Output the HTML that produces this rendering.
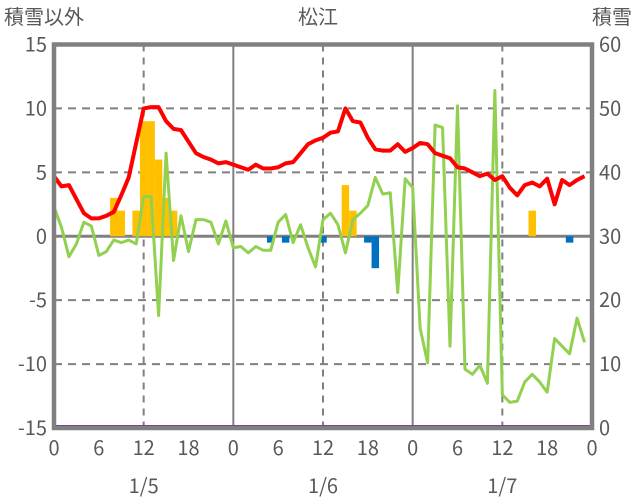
<!DOCTYPE html>
<html><head><meta charset="utf-8">
<style>
body{margin:0;background:#fff;}
svg{display:block;font-family:"Noto Sans CJK JP","Liberation Sans",sans-serif;}
.t{fill:#595959;font-size:20px;}
</style></head>
<body>
<svg id="chart" width="636" height="501" viewBox="0 0 636 501" xmlns="http://www.w3.org/2000/svg">
<text x="4" y="24" class="t">積雪以外</text>
<text x="318" y="24" class="t" text-anchor="middle">松江</text>
<text x="632" y="24" class="t" text-anchor="end">積雪</text>
<g id="grid"></g>
<g id="bars"></g>
<g id="lines"></g>
<g id="axes"></g>
</svg>
<script>
const hourTicks = [0,6,12,18,0,6,12,18,0,6,12,18,0];
const dateLabels = ["1/5","1/6","1/7"];
const leftTicks = [15,10,5,0,-5,-10,-15];
const rightTicks = [60,50,40,30,20,10,0];
const temp = [4.7,3.9,4.0,2.9,1.8,1.4,1.4,1.6,1.9,3.2,4.6,7.3,10.0,10.1,10.1,9.0,8.4,8.3,7.4,6.5,6.2,6.0,5.7,5.8,5.6,5.4,5.2,5.6,5.3,5.3,5.4,5.7,5.8,6.5,7.2,7.5,7.7,8.1,8.2,10.0,9.0,8.9,7.7,6.8,6.7,6.7,7.2,6.6,6.9,7.3,7.2,6.5,6.3,6.1,5.4,5.3,5.0,4.7,4.9,4.4,4.7,3.8,3.2,4.0,4.2,3.9,4.5,2.5,4.4,4.0,4.4,4.7];
const wind = [2.3,0.7,-1.6,-0.6,1.1,0.8,-1.5,-1.2,-0.3,-0.5,-0.3,-0.6,3.1,3.1,-6.2,6.5,-1.9,1.6,-1.2,1.3,1.3,1.1,-0.6,1.2,-0.9,-0.8,-1.3,-0.8,-1.1,-1.1,1.1,1.7,-0.5,0.9,-0.9,-2.4,1.3,1.8,0.9,-1.3,1.3,1.8,2.4,4.6,3.3,3.4,-4.4,4.5,3.8,-7.2,-9.9,8.7,8.5,-8.6,10.2,-10.4,-10.8,-10.1,-11.5,11.4,-12.4,-13.0,-12.9,-11.4,-10.8,-11.4,-12.2,-8.0,-8.6,-9.2,-6.4,-8.3];
const precipHours = [8,9,11,12,13,14,15,16,39,40,64];
const precipVals = [3,2,2,9,9,6,3,2,4,2,2];
const blueHours = [29,31,36,42,43,69];
const blueVals = [-0.5,-0.5,-0.5,-0.5,-2.5,-0.5];
const snowDepth = new Array(72).fill(0);

const X0=54, X1=592, Y0=44.5, Y1=428;
const xS = h => X0 + (X1-X0)*h/72;
const yL = v => Y0 + (15-v)*(Y1-Y0)/30;
const yR = v => Y1 - v*(Y1-Y0)/60;
const NS="http://www.w3.org/2000/svg";
function mk(tag, attrs, parent){const e=document.createElementNS(NS,tag);for(const k in attrs)e.setAttribute(k,attrs[k]);parent.appendChild(e);return e;}
const grid=document.getElementById('grid'), bars=document.getElementById('bars'), lines=document.getElementById('lines'), axes=document.getElementById('axes');

leftTicks.forEach(v=>{
  if(v===15||v===-15)return;
  const l=mk('line',{x1:X0,x2:X1,y1:yL(v),y2:yL(v),stroke:'#808080','stroke-width':v===0?3:2,'stroke-dasharray':v===0?'none':'8,6'},grid);
  
  
});
for(let h=12;h<72;h+=12){
  const day=h%24===0;
  const l=mk('line',{x1:xS(h),x2:xS(h),y1:Y0,y2:Y1,stroke:'#808080','stroke-width':2,'stroke-dasharray':day?'none':'7,6'},grid);
  
  
}
const bw=(X1-X0)/72;
precipHours.forEach((h,i)=>{
  const v=precipVals[i];
  const r=mk('rect',{x:xS(h)-bw/2,y:yL(v),width:bw,height:yL(0)-yL(v),fill:'#FFC000'},bars);
  
  
});
blueHours.forEach((h,i)=>{
  const v=blueVals[i];
  const r=mk('rect',{x:xS(h)-bw/2,y:yL(0),width:bw,height:yL(v)-yL(0),fill:'#0070C0'},bars);
  
  
});
const wl=mk('polyline',{points:wind.map((v,i)=>xS(i)+','+yL(v)).join(' '),fill:'none',stroke:'#92D050','stroke-width':3,'stroke-linejoin':'round'},lines);


const tl=mk('polyline',{points:temp.map((v,i)=>xS(i)+','+yL(v)).join(' '),fill:'none',stroke:'#FF0000','stroke-width':4,'stroke-linejoin':'round'},lines);



const fr=mk('rect',{x:X0,y:Y0,width:X1-X0,height:Y1-Y0,fill:'none',stroke:'#808080','stroke-width':4.5},axes);


const sl=mk('polyline',{points:snowDepth.map((v,i)=>xS(i)+','+(yR(v)-1.5)).join(' ')+' '+X1+','+(yR(0)-1.5),fill:'none',stroke:'#7030A0','stroke-width':3},lines);



leftTicks.forEach(v=>{
  const t=mk('text',{x:47,y:yL(v)+7,'text-anchor':'end',class:'t'},axes);
  t.textContent=v;
  
  
});
rightTicks.forEach(v=>{
  const t=mk('text',{x:599,y:yR(v)+7,class:'t'},axes);
  t.textContent=v;
  
  
});
hourTicks.forEach((v,i)=>{
  const t=mk('text',{x:xS(i*6),y:455,'text-anchor':'middle',class:'t'},axes);
  t.textContent=v;
  
  
});
dateLabels.forEach((d,i)=>{
  const t=mk('text',{x:xS(12+24*i),y:493,'text-anchor':'middle',class:'t'},axes);
  t.textContent=d;
  
  
});
</script>
</body></html>
